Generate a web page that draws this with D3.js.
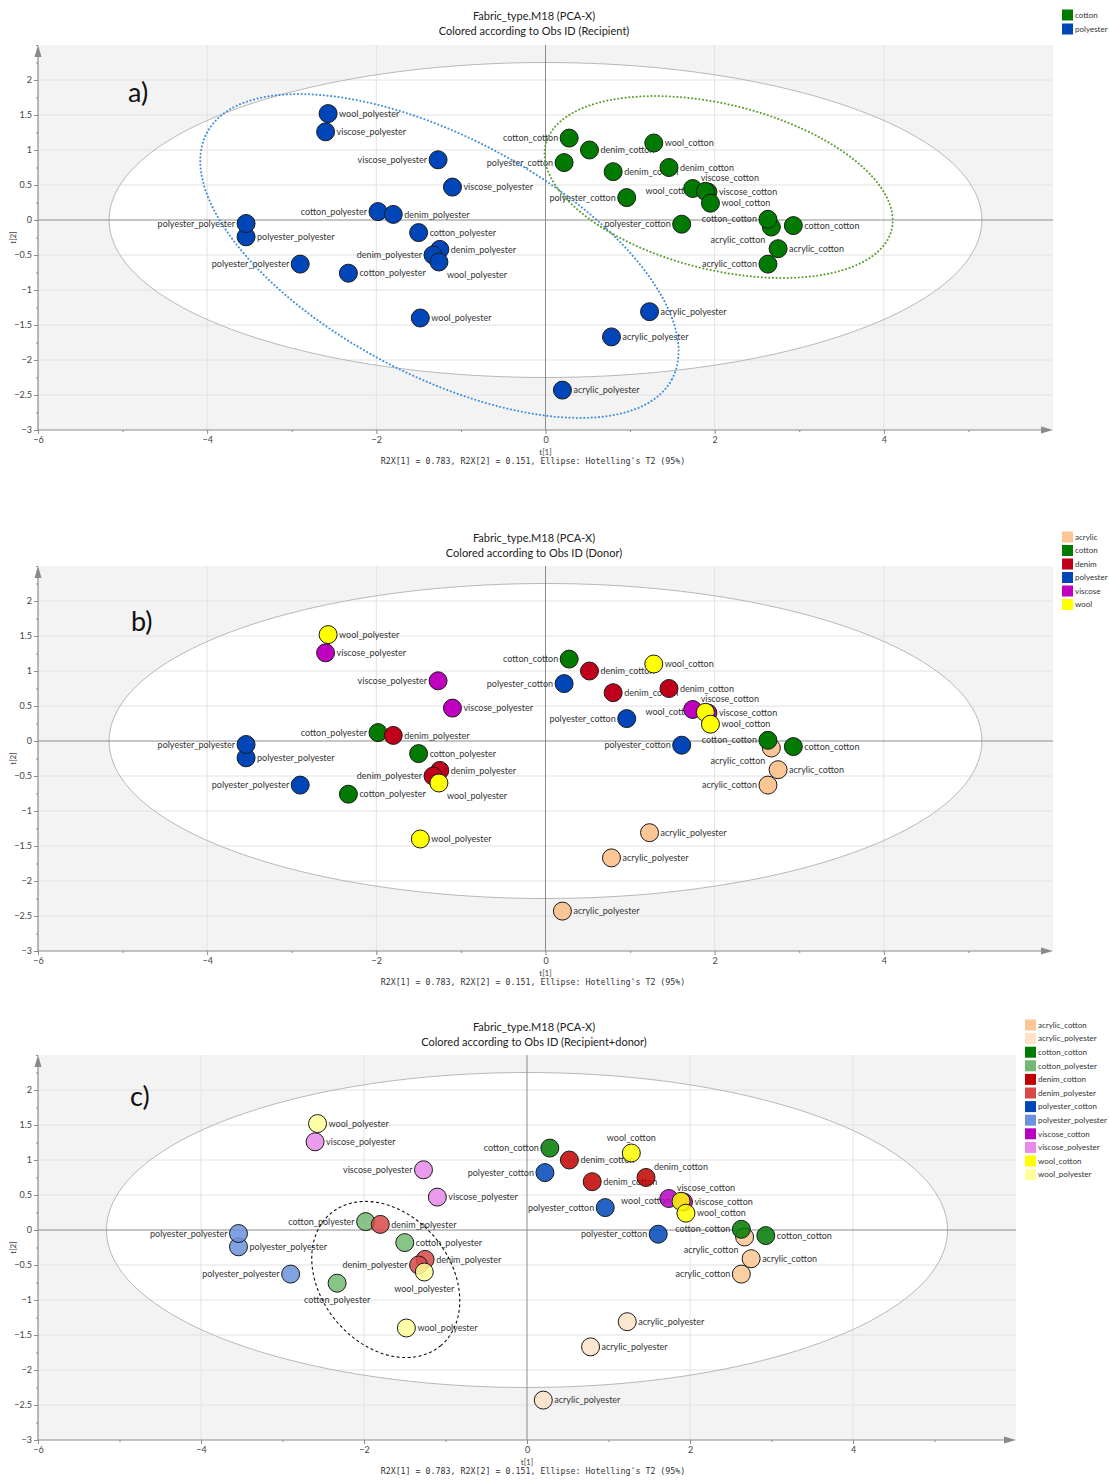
<!DOCTYPE html>
<html>
<head>
<meta charset="utf-8">
<script src="https://cdn.jsdelivr.net/npm/d3@7"></script>
<style>
  body { margin: 0; background: #fff; }
  svg { display: block; font-family: Lato, "Open Sans", "Noto Sans", sans-serif; }
  .mono { font-family: "DejaVu Sans Mono", "Liberation Mono", monospace; }
</style>
</head>
<body>
<svg id="chart" width="1109" height="1481"></svg>
<script>
// PCA-X score values (t[1], t[2]) per observation, with donor and recipient fabric
const obsDonor = [
  "wool","viscose","viscose","viscose","cotton","denim","polyester","polyester","cotton",
  "denim","denim","wool","polyester","cotton","wool","acrylic","acrylic","acrylic",
  "cotton","denim","polyester","wool","denim","denim","viscose","viscose","wool","wool",
  "polyester","polyester","acrylic","cotton","cotton","acrylic","acrylic"
];
const obsRecipient = [
  "polyester","polyester","polyester","polyester","polyester","polyester","polyester","polyester","polyester",
  "polyester","polyester","polyester","polyester","polyester","polyester","polyester","polyester","polyester",
  "cotton","cotton","cotton","cotton","cotton","cotton","cotton","cotton","cotton","cotton",
  "cotton","cotton","cotton","cotton","cotton","cotton","cotton"
];
const t1 = [
  -2.57,-2.60,-1.27,-1.10,-1.98,-1.80,-3.54,-3.54,-1.50,
  -1.25,-1.33,-1.26,-2.90,-2.33,-1.48,1.23,0.78,0.20,
  0.28,0.52,0.22,1.28,0.80,1.46,1.74,1.92,1.89,1.95,
  0.96,1.61,2.67,2.63,2.93,2.75,2.63
];
const t2 = [
  1.52,1.26,0.86,0.47,0.12,0.08,-0.24,-0.05,-0.18,
  -0.42,-0.50,-0.60,-0.63,-0.76,-1.40,-1.31,-1.67,-2.43,
  1.17,1.00,0.82,1.10,0.69,0.75,0.45,0.40,0.41,0.24,
  0.32,-0.06,-0.10,0.01,-0.08,-0.41,-0.63
];

// where each observation's name sits next to its marker
const labelSideAB = [
  "r","r","l","r","l","r","r","l","r",
  "r","l","br","l","r","r","r","r","r",
  "l","r","l","r","r","r","ar","r","l","r",
  "l","l","bl","l","r","r","l"
];
const labelSideC = [
  "r","r","l","r","l","r","r","l","r",
  "r","l","b","l","b","r","r","r","r",
  "l","r","l","a","r","ar","ar","r","l","r",
  "l","l","bl","l","r","r","l"
];

const xTicks = [-6, -4, -2, 0, 2, 4];
const yTicks = [2, 1.5, 1, 0.5, 0, -0.5, -1, -1.5, -2, -2.5, -3];
const xGrid = [-4, -2, 2, 4];

// Hotelling's T2 (95%) semi-axes
const t2Ellipse = [5.16, 2.25];
// hand-drawn group outlines: centre, first axis vector, second axis vector
const polyesterOutline = [-1.254, -0.514, 2.75, -1.759, 0.659, 1.503];
const cottonOutline = [2.047, 0.471, 2.045, -0.611, 0.235, 1.147];
const polyRecipientOutline = [-1.733, -0.707, 0.672, -0.947, 0.611, 0.589];

const recipientGroups = ["cotton", "polyester"];
const recipientColors = ["#007a00", "#0046b8"];
const donorGroups = ["acrylic", "cotton", "denim", "polyester", "viscose", "wool"];
const donorColors = ["#fcc594", "#007a00", "#c0001a", "#0046b8", "#c000c0", "#ffff00"];
const comboGroups = [
  "acrylic_cotton","acrylic_polyester","cotton_cotton","cotton_polyester",
  "denim_cotton","denim_polyester","polyester_cotton","polyester_polyester",
  "viscose_cotton","viscose_polyester","wool_cotton","wool_polyester"
];
const comboColors = [
  "#fcc594","#fde2c8","#007a00","#73b973",
  "#c00000","#d84848","#0046b8","#6b92dc",
  "#b800c0","#e88ae8","#ffff00","#ffff99"
];

const obs = t1.map((v, i) => ({
  t1: v, t2: t2[i],
  donor: obsDonor[i], recipient: obsRecipient[i],
  name: obsDonor[i] + "_" + obsRecipient[i],
  sideAB: labelSideAB[i], sideC: labelSideC[i]
}));

const svg = d3.select("#chart");

function ellipsePath(x, y, e) {
  const ts = d3.range(0, 2 * Math.PI, Math.PI / 90);
  return d3.line()
    .x(t => x(e[0] + Math.cos(t) * e[2] + Math.sin(t) * e[4]))
    .y(t => y(e[1] + Math.cos(t) * e[3] + Math.sin(t) * e[5]))
    .curve(d3.curveLinearClosed)(ts);
}

function drawPanel(cfg) {
  const g = svg.append("g");
  const x = d3.scaleLinear().domain([-6, 6]).range([38, cfg.right]);
  const y = d3.scaleLinear().domain([-3, 2.5]).range([cfg.bottom, cfg.top]);
  const color = d3.scaleOrdinal().domain(cfg.groups).range(cfg.colors);
  const clipId = "clip-" + cfg.id;

  g.append("clipPath").attr("id", clipId).append("rect")
    .attr("x", x(-6)).attr("y", y(2.5))
    .attr("width", x(6) - x(-6)).attr("height", y(-3) - y(2.5));

  // titles
  g.append("text").attr("x", 534).attr("y", cfg.titleY)
    .attr("text-anchor", "middle").attr("font-size", 11).attr("fill", "#222")
    .text("Fabric_type.M18 (PCA-X)");
  g.append("text").attr("x", 534).attr("y", cfg.titleY + 15)
    .attr("text-anchor", "middle").attr("font-size", 11).attr("fill", "#222")
    .text(cfg.subtitle);

  // plot background and T2 ellipse
  const plot = g.append("g").attr("clip-path", `url(#${clipId})`);
  plot.append("rect")
    .attr("x", x(-6)).attr("y", y(2.5))
    .attr("width", x(6) - x(-6)).attr("height", y(-3) - y(2.5))
    .attr("fill", "#f3f3f3");
  const t2e = [0, 0, t2Ellipse[0], 0, 0, t2Ellipse[1]];
  plot.append("path").attr("d", ellipsePath(x, y, t2e)).attr("fill", "#fff");

  // grid
  plot.selectAll(".vg").data(xGrid).join("line")
    .attr("x1", d => x(d)).attr("x2", d => x(d))
    .attr("y1", y(2.5)).attr("y2", y(-3))
    .attr("stroke", "#e2e2e2").attr("stroke-width", 1);
  plot.selectAll(".hg").data(yTicks.filter(d => d !== 0 && d !== -3)).join("line")
    .attr("x1", x(-6)).attr("x2", x(6))
    .attr("y1", d => y(d)).attr("y2", d => y(d))
    .attr("stroke", "#e2e2e2").attr("stroke-width", 1);
  plot.append("path").attr("d", ellipsePath(x, y, t2e))
    .attr("fill", "none").attr("stroke", "#b8b8b8").attr("stroke-width", 1);
  plot.append("line").attr("x1", x(0)).attr("x2", x(0)).attr("y1", y(2.5)).attr("y2", y(-3))
    .attr("stroke", "#8c8c8c").attr("stroke-width", 1);
  plot.append("line").attr("x1", x(-6)).attr("x2", x(6)).attr("y1", y(0)).attr("y2", y(0))
    .attr("stroke", "#8c8c8c").attr("stroke-width", 1);

  // axes
  const axisColor = "#8a8a8a";
  const yAxis = g.append("g").attr("transform", `translate(${x(-6)},0)`)
    .call(d3.axisLeft(y).tickValues(d3.range(-3, 2.51, 0.25)).tickSize(2).tickFormat(""));
  yAxis.select(".domain").remove();
  yAxis.selectAll("line").attr("stroke", axisColor);
  const yMajor = g.append("g").attr("transform", `translate(${x(-6)},0)`)
    .call(d3.axisLeft(y).tickValues(yTicks).tickSize(4).tickPadding(2).tickFormat(d3.format("")));
  yMajor.select(".domain").remove();
  yMajor.selectAll("line").attr("stroke", axisColor);
  yMajor.attr("font-family", null).attr("font-size", null);
  yMajor.selectAll("text").attr("font-size", 9).attr("fill", "#444");

  const xAxis = g.append("g").attr("transform", `translate(0,${y(-3)})`)
    .call(d3.axisBottom(x).tickValues(d3.range(-5, 6, 2)).tickSize(2).tickFormat(""));
  xAxis.select(".domain").remove();
  xAxis.selectAll("line").attr("stroke", axisColor);
  const xMajor = g.append("g").attr("transform", `translate(0,${y(-3)})`)
    .call(d3.axisBottom(x).tickValues(xTicks).tickSize(4).tickPadding(3).tickFormat(d3.format("")));
  xMajor.select(".domain").remove();
  xMajor.selectAll("line").attr("stroke", axisColor);
  xMajor.attr("font-family", null).attr("font-size", null);
  xMajor.selectAll("text").attr("font-size", 9).attr("fill", "#444");

  g.append("line").attr("x1", x(-6)).attr("x2", x(-6)).attr("y1", y(-3)).attr("y2", y(2.5) + 6)
    .attr("stroke", axisColor).attr("stroke-width", 1.2);
  g.append("line").attr("x1", x(-6)).attr("x2", x(6) - 6).attr("y1", y(-3)).attr("y2", y(-3))
    .attr("stroke", axisColor).attr("stroke-width", 1.2);
  g.append("path")
    .attr("d", `M${x(-6)},${y(2.5)} L${x(-6) - 3.5},${y(2.5) + 12} L${x(-6) + 3.5},${y(2.5) + 12} Z`)
    .attr("fill", axisColor);
  g.append("path")
    .attr("d", `M${x(6)},${y(-3)} L${x(6) - 12},${y(-3) - 3.5} L${x(6) - 12},${y(-3) + 3.5} Z`)
    .attr("fill", axisColor);

  g.append("text").attr("transform", `translate(16,${(y(2.5) + y(-3)) / 2}) rotate(-90)`)
    .attr("text-anchor", "middle").attr("font-size", 8).attr("fill", "#444").text("t[2]");
  g.append("text").attr("x", x(0)).attr("y", y(-3) + 25)
    .attr("text-anchor", "middle").attr("font-size", 8).attr("fill", "#444").text("t[1]");
  g.append("text").attr("class", "mono").attr("x", 533).attr("y", y(-3) + 34)
    .attr("text-anchor", "middle").attr("font-size", 8.3).attr("fill", "#333")
    .text("R2X[1] = 0.783, R2X[2] = 0.151, Ellipse: Hotelling's T2 (95%)");

  // panel letter
  g.append("text").attr("x", cfg.letterX).attr("y", cfg.letterY)
    .attr("font-size", 27).attr("fill", "#111").text(cfg.letter);

  // observation names, then markers on top
  const side = cfg.side;
  const lbl = plot.append("g");
  obs.forEach(d => {
    const px = x(d.t1), py = y(d.t2), s = d[side];
    let tx = px + 11, ty = py, anchor = "start";
    if (s === "l") { tx = px - 11; anchor = "end"; }
    else if (s === "ar") { tx = px + 8; ty = py - 11; }
    else if (s === "br") { tx = px + 8; ty = py + 13; }
    else if (s === "bl") { tx = px - 6; ty = py + 13; anchor = "end"; }
    else if (s === "a") { tx = px; ty = py - 15; anchor = "middle"; }
    else if (s === "b") { tx = px; ty = py + 17; anchor = "middle"; }
    lbl.append("text").attr("x", tx).attr("y", ty).attr("dy", "0.35em")
      .attr("text-anchor", anchor).attr("font-size", 9).attr("fill", "#333")
      .text(d.name);
  });

  plot.append("g").selectAll("circle").data(obs).join("circle")
    .attr("cx", d => x(d.t1)).attr("cy", d => y(d.t2)).attr("r", 9)
    .attr("fill", d => color(cfg.key(d)))
    .attr("fill-opacity", cfg.opacity)
    .attr("stroke", "#1a1a1a").attr("stroke-width", 1);

  // group outlines
  (cfg.outlines || []).forEach(o => {
    plot.append("path").attr("d", ellipsePath(x, y, o.e))
      .attr("fill", "none").attr("stroke", o.color).attr("stroke-width", o.width)
      .attr("stroke-dasharray", o.dash).attr("stroke-linecap", o.cap);
  });

  // legend
  const leg = g.append("g");
  cfg.groups.forEach((name, i) => {
    const ly = cfg.legendY + i * cfg.legendStep;
    leg.append("rect").attr("x", cfg.legendX).attr("y", ly - 5.5)
      .attr("width", 11).attr("height", 11).attr("fill", cfg.colors[i]);
    leg.append("text").attr("x", cfg.legendX + 13).attr("y", ly).attr("dy", "0.35em")
      .attr("font-size", 8).attr("fill", "#333").text(name);
  });
}

drawPanel({
  id: "a", top: 45, bottom: 430, right: 1053, titleY: 20,
  subtitle: "Colored according to Obs ID (Recipient)",
  letter: "a)", letterX: 128, letterY: 102,
  groups: recipientGroups, colors: recipientColors, key: d => d.recipient,
  opacity: 1, side: "sideAB",
  legendX: 1062, legendY: 15, legendStep: 14,
  outlines: [
    { e: polyesterOutline, color: "#3f8fdc", width: 2, dash: "0.1,3.6", cap: "round" },
    { e: cottonOutline, color: "#5c9e2e", width: 2, dash: "0.1,3.6", cap: "round" }
  ]
});

drawPanel({
  id: "b", top: 566, bottom: 951, right: 1053, titleY: 542,
  subtitle: "Colored according to Obs ID (Donor)",
  letter: "b)", letterX: 131, letterY: 631,
  groups: donorGroups, colors: donorColors, key: d => d.donor,
  opacity: 1, side: "sideAB",
  legendX: 1062, legendY: 537, legendStep: 13.5
});

drawPanel({
  id: "c", top: 1055, bottom: 1440, right: 1016, titleY: 1031,
  subtitle: "Colored according to Obs ID (Recipient+donor)",
  letter: "c)", letterX: 130, letterY: 1106,
  groups: comboGroups, colors: comboColors, key: d => d.name,
  opacity: 0.85, side: "sideC",
  legendX: 1025, legendY: 1025, legendStep: 13.6,
  outlines: [
    { e: polyRecipientOutline, color: "#111", width: 1.1, dash: "3,2.5", cap: "butt" }
  ]
});
</script>
</body>
</html>
